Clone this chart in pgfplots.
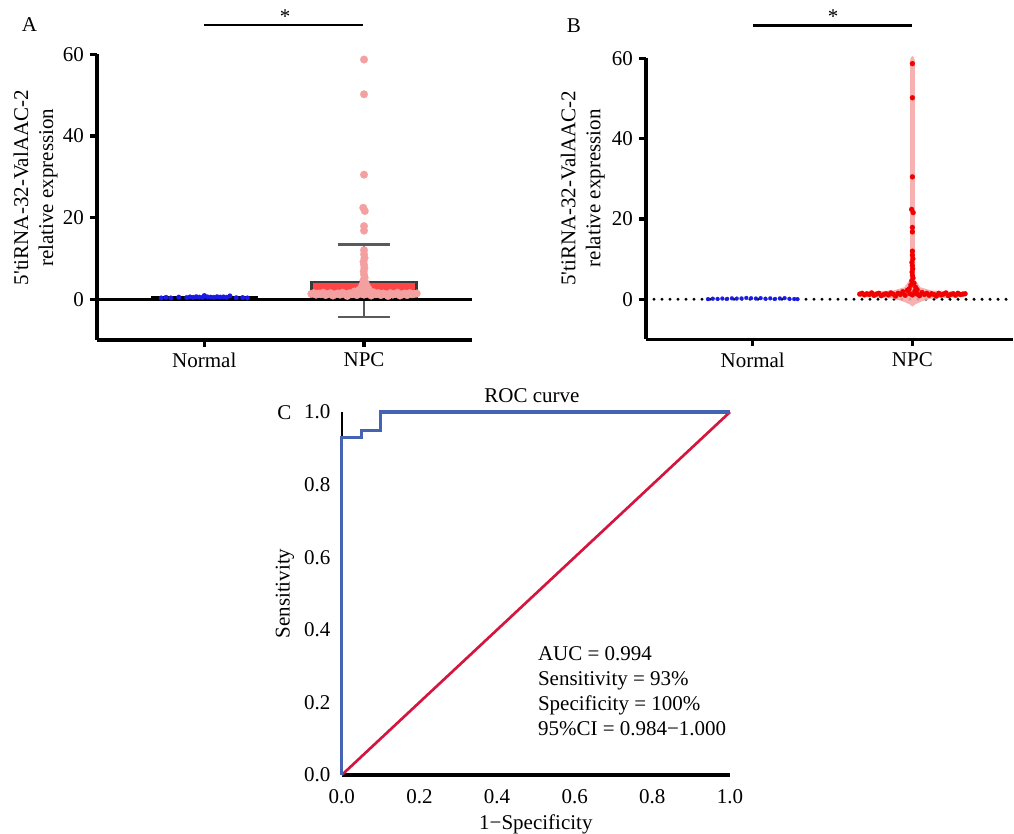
\documentclass[border=0pt]{standalone}
\usepackage{fontspec}
\setmainfont{Liberation Serif}
\usepackage{pgfplots}
\pgfplotsset{compat=1.18}

\definecolor{dotblue}{HTML}{1A1AE6}
\definecolor{barred}{HTML}{FF4545}
\definecolor{pinkdot}{HTML}{F5A0A0}
\definecolor{errgray}{HTML}{5A5A5A}
\definecolor{baredge}{HTML}{3A3A3A}
\definecolor{ptred}{HTML}{F00000}
\definecolor{violin}{HTML}{F7A8A8}
\definecolor{rocblue}{HTML}{4563B3}
\definecolor{rocred}{HTML}{D4163F}

\newcommand\fs{\fontsize{15.75pt}{18.75pt}\selectfont}

% NPC values: wide band near 1 plus the tall column at the centre
\pgfplotstableread{
x y
1.670 1.3
1.685 1.5
1.700 1.1
1.715 1.4
1.730 1.2
1.745 1.6
1.760 1.0
1.775 1.3
1.790 1.5
1.805 0.9
1.820 1.2
1.835 1.4
1.850 1.1
1.865 1.6
1.880 1.3
1.895 0.8
1.910 1.5
1.925 1.2
1.940 1.9
1.955 1.0
1.970 2.3
1.985 1.4
2.000 1.1
2.015 2.0
2.030 1.3
2.045 0.9
2.060 1.7
2.075 1.2
2.090 1.5
2.105 1.0
2.120 1.4
2.135 1.2
2.150 0.8
2.165 1.5
2.180 1.1
2.195 1.3
2.210 1.6
2.225 0.9
2.240 1.2
2.255 1.4
2.270 1.0
2.285 1.5
2.300 1.2
2.315 1.3
2.330 1.4
2.000 58.7
2.000 50.2
2.000 30.5
1.995 22.4
2.005 21.6
2.000 17.9
2.000 16.8
2.000 12.0
2.000 11.0
2.003 10.1
1.997 9.2
2.000 8.4
2.002 7.6
1.998 6.8
2.000 6.0
2.004 5.3
1.996 4.6
2.010 4.0
1.990 3.5
2.020 3.0
1.980 2.6
2.030 2.4
1.970 2.2
}\npc

\pgfplotstableread{
x y
0.73 0.30
0.76 0.45
0.79 0.30
0.84 0.50
0.89 0.40
0.91 0.55
0.93 0.45
0.95 0.60
0.97 0.50
0.99 0.45
1.00 0.90
1.02 0.55
1.04 0.50
1.06 0.45
1.08 0.60
1.10 0.50
1.12 0.55
1.14 0.45
1.16 0.80
1.20 0.35
1.24 0.40
1.27 0.30
}\normA

\pgfplotstableread{
x y
0.72 0.05
0.75 0.15
0.78 0.10
0.81 0.20
0.84 0.12
0.87 0.25
0.90 0.18
0.93 0.22
0.96 0.35
0.99 0.28
1.02 0.20
1.05 0.30
1.08 0.15
1.11 0.25
1.14 0.10
1.17 0.22
1.20 0.30
1.23 0.12
1.26 0.08
1.28 0.05
}\normB

\pgfplotsset{
  panel/.style={
    scale only axis,
    line width=2.4pt,
    axis lines=left,
    axis line style={-, line width=2.4pt},
    every outer x axis line/.append style={line width=2.4pt},
    every outer y axis line/.append style={line width=2.4pt},
    tick align=outside,
    major tick length=5.25pt,
    tick style={line width=2.4pt, black},
    ticklabel style={font=\fs},
    label style={font=\fs},
    /pgf/number format/assume math mode=true,
    ymin=-10, ymax=60,
    ytick={0,20,40,60},
    xtick={1,2},
    xticklabels={Normal,NPC},
    ylabel={5\textquotesingle tiRNA-32-ValAAC-2\\relative expression},
    ylabel style={align=center, anchor=center},
    clip=false
  },
  dots/.style={only marks, mark=*, color=#1, line width=0.1pt, mark options={fill=#1, draw=#1, line width=0.1pt}}
}

\begin{document}
\begin{tikzpicture}[x=0.75pt, y=-0.75pt]
\useasboundingbox (0,0) rectangle (1014,833);

% ---------------- A
\begin{axis}[panel, at={(72.75pt,-255pt)}, anchor=south west,
  width=281pt, height=214.3pt, xmin=0.328, xmax=2.674,
  ylabel style={at={(axis description cs:-0.164,0.533)}}]
  % SD whisker and caps
  \addplot[errgray, line width=2pt] coordinates {(2,-4.4) (2,13.4)};
  \addplot[errgray, line width=2pt] coordinates {(1.837,13.4) (2.163,13.4)};
  \addplot[errgray, line width=2pt] coordinates {(1.837,-4.4) (2.163,-4.4)};
  \addplot[ybar, bar width=0.657, fill=white, draw=black, line width=1.5pt] coordinates {(1,0.6)};
  \addplot[ybar, bar width=0.657, fill=barred, draw=baredge, line width=1.8pt] coordinates {(2,4.17)};
  \addplot[black, line width=2.4pt] coordinates {(0.328,0) (2.674,0)};
  \addplot[dots=pinkdot, mark size=2.9pt] table[x=x,y=y] {\npc};
  \addplot[dots=dotblue, mark size=1.8pt] table[x=x,y=y] {\normA};
\end{axis}

% ---------------- B
\begin{axis}[panel, at={(484.5pt,-254.6pt)}, anchor=south west,
  width=275.25pt, height=210.8pt, xmin=0.332, xmax=2.63,
  ylabel style={at={(axis description cs:-0.172,0.538)}}]
  \addplot[black, line width=2.5pt, line cap=round, dash pattern=on 0pt off 6pt] coordinates {(0.332,0) (2.63,0)};
  \addplot[fill=violin, draw=none, opacity=0.9] coordinates {
    (2,-1.8) (1.98,-1.2) (1.94,-0.5) (1.88,0.2) (1.67,0.6) (1.67,1.8) (1.88,2.2)
    (1.95,3.0) (1.985,5) (1.985,59.5) (1.992,60.3) (2,60.6) (2.008,60.3) (2.015,59.5)
    (2.015,5) (2.05,3.0) (2.12,2.2) (2.33,1.8) (2.33,0.6) (2.12,0.2) (2.06,-0.5)
    (2.02,-1.2) (2,-1.8)} -- cycle;
  \addplot[dots=ptred, mark size=1.9pt] table[x=x,y=y] {\npc};
  \addplot[dots=dotblue, mark size=1.5pt] table[x=x,y=y] {\normB};
\end{axis}

% ---------------- C
\begin{axis}[scale only axis, at={(256.3pt,-581.25pt)}, anchor=south west,
  width=291.2pt, height=272.25pt,
  xmin=0, xmax=1, ymin=0, ymax=1,
  line width=2.4pt,
  axis lines=left,
  axis line style={-},
  every outer x axis line/.append style={line width=2.4pt},
  every outer y axis line/.append style={line width=1.5pt},
  x axis line style={line width=2.4pt},
  y axis line style={line width=1.5pt},
  major tick length=0pt,
  xtick={0,0.2,0.4,0.6,0.8,1}, ytick={0,0.2,0.4,0.6,0.8,1},
  ticklabel style={font=\fs},
  /pgf/number format/fixed,
  /pgf/number format/fixed zerofill,
  /pgf/number format/precision=1,
  /pgf/number format/assume math mode=true,
  xticklabel style={yshift=-6.5pt},
  yticklabel style={xshift=-4pt},
  label style={font=\fs},
  xlabel={1−Specificity},
  ylabel={Sensitivity},
  xlabel style={at={(axis description cs:0.5,-0.137)}, anchor=center},
  ylabel style={at={(axis description cs:-0.146,0.5)}, anchor=center},
  title={ROC curve}, title style={font=\fs, at={(axis description cs:0.49,1.023)}, anchor=center},
  clip=false]
  \addplot[rocred, line width=2pt] coordinates {(0,0) (1,1)};
  \addplot[rocblue, line width=2.3pt] coordinates {(0,0) (0,0.93) (0.05,0.93) (0.05,0.95) (0.1,0.95) (0.1,1) (1,1)};
  \node[font=\fs, anchor=base west] at (axis cs:0.49,0.315) {AUC = 0.994};
  \node[font=\fs, anchor=base west] at (axis cs:0.49,0.246) {Sensitivity = 93\%};
  \node[font=\fs, anchor=base west] at (axis cs:0.49,0.177) {Specificity = 100\%};
  \node[font=\fs, anchor=base west] at (axis cs:0.49,0.108) {95\%CI = 0.984−1.000};
\end{axis}

% panel letters and significance bars
\node[font=\fs, anchor=base west, inner sep=0pt] at (21.5,31.5) {A};
\node[font=\fs, anchor=base west, inner sep=0pt] at (566.5,32) {B};
\node[font=\fs, anchor=base west, inner sep=0pt] at (277,419.5) {C};
\draw[line width=2.2pt] (204,25) -- (363,25);
\draw[line width=2.2pt] (753,25.7) -- (912,25.7);
\node[font=\fs, anchor=base, inner sep=0pt] at (285,23.5) {*};
\node[font=\fs, anchor=base, inner sep=0pt] at (833,23.5) {*};
\end{tikzpicture}
\end{document}
